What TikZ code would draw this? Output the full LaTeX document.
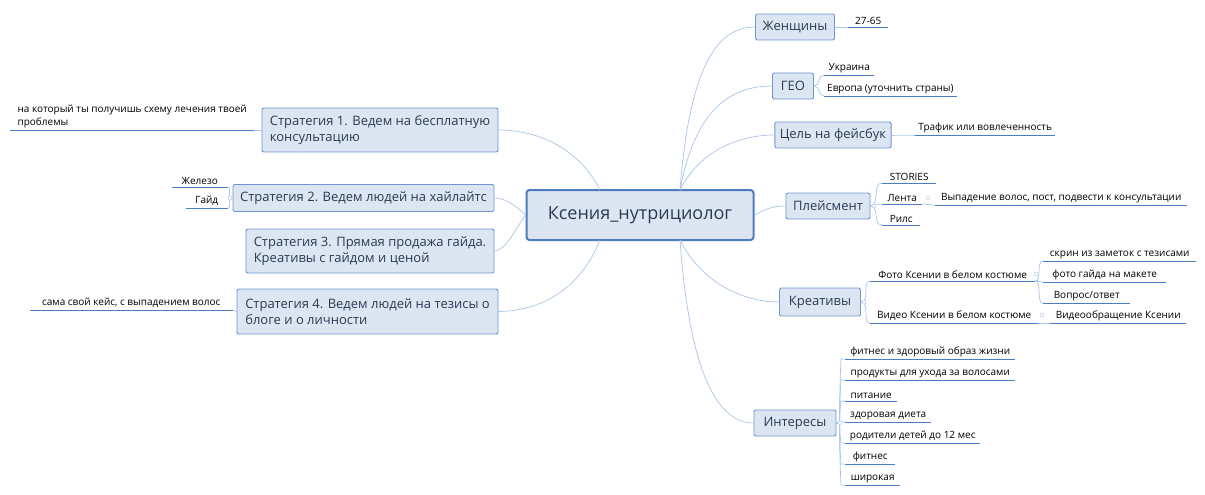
\documentclass[tikz,border=0pt]{standalone}
\usepackage{fontspec}
\setmainfont{Open Sans}
\begin{document}
\begin{tikzpicture}[x=1pt,y=-1pt,
  box/.style={draw=boxb,fill=boxf,rounded corners=2pt,line width=0.9pt,font=\fontsize{13}{16}\selectfont,text=txt,inner xsep=5pt,inner ysep=5pt,align=left},
  leaf/.style={font=\fontsize{10}{13}\selectfont,text=black,inner xsep=3pt,inner ysep=2pt,anchor=south west,align=left},
  ul/.style={draw=ulc,line width=0.9pt},
  conn/.style={draw=connc,line width=0.7pt},
  knob/.style={circle,draw=connc,fill=white,inner sep=0pt,minimum size=4pt}]
\definecolor{boxb}{HTML}{6F96CF}
\definecolor{boxf}{HTML}{DCE6F3}
\definecolor{txt}{HTML}{2A3B52}
\definecolor{ulc}{HTML}{4A7CC7}
\definecolor{connc}{HTML}{A9C4E8}
\definecolor{cb}{HTML}{4F7CBD}
\useasboundingbox (0,0) rectangle (1205,495);
\newcommand{\lf}[5]{\node[leaf,minimum width=#4] (#1) at (#2,#3) {#5}; \draw[ul] (#1.south west) -- (#1.south east);}

% central
\node[draw=cb,fill=boxf,rounded corners=3pt,line width=2pt,minimum width=227pt,minimum height=50pt,font=\fontsize{18}{22}\selectfont,text=txt] (c) at (640,215) {Ксения\_нутрициолог};

% right boxes
\node[box,minimum width=79pt,minimum height=26pt] (w) at (795,27) {Женщины};
\node[box,minimum width=41pt,minimum height=26pt] (g) at (793,86) {ГЕО};
\node[box,minimum width=110pt,minimum height=26pt] (f) at (833,135) {Цель на фейсбук};
\node[box,minimum width=84pt,minimum height=26pt] (p) at (828,206) {Плейсмент};
\node[box,minimum width=81pt,minimum height=28pt] (k) at (820,302) {Креативы};
\node[box,minimum width=82pt,minimum height=26pt] (i) at (795,423) {Интересы};

% left boxes
\node[box,minimum width=236pt,minimum height=44pt] (s1) at (380,130) {Стратегия 1. Ведем на бесплатную\\консультацию};
\node[box,minimum width=261pt,minimum height=27pt] (s2) at (363.5,198) {Стратегия 2. Ведем людей на хайлайтс};
\node[box,minimum width=248pt,minimum height=44pt] (s3) at (370,251) {Стратегия 3. Прямая продажа гайда.\\Креативы с гайдом и ценой};
\node[box,minimum width=261pt,minimum height=45pt] (s4) at (367.5,311.5) {Стратегия 4. Ведем людей на тезисы о\\блоге и о личности};

% central connectors
\coordinate (ct) at (680,190);
\coordinate (cbt) at (680,240);
\coordinate (clt) at (600,190);
\coordinate (clb) at (600,240);
\draw[conn] (ct) .. controls (690,60) and (720,27) .. (w.west);
\draw[conn] (ct) .. controls (695,110) and (730,86) .. (g.west);
\draw[conn] (ct) .. controls (700,150) and (740,135) .. (f.west);
\draw[conn] (c.east) .. controls (765,210) and (770,206) .. (p.west);
\draw[conn] (cbt) .. controls (700,280) and (740,302) .. (k.west);
\draw[conn] (cbt) .. controls (690,380) and (720,423) .. (i.west);
\draw[conn] (clt) .. controls (580,150) and (540,130) .. (s1.east);
\draw[conn] (c.west) .. controls (515,205) and (505,198) .. (s2.east);
\draw[conn] (c.west) .. controls (515,230) and (505,251) .. (s3.east);
\draw[conn] (clb) .. controls (580,290) and (540,311) .. (s4.east);

% Женщины
\lf{w1}{848}{27}{40pt}{27-65}
\draw[conn] (w.east) .. controls (842,27) .. (w1.south west);
% ГЕО
\lf{g1}{824}{75}{50pt}{Украина}
\lf{g2}{824}{96}{132pt}{Европа (уточнить страны)}
\draw[conn] (g.east) .. controls (820,86) and (818,75) .. (g1.south west);
\draw[conn] (g.east) .. controls (820,86) and (818,96) .. (g2.south west);
% Цель
\lf{f1}{915}{135}{140pt}{Трафик или вовлеченность}
\draw[conn] (f.east) .. controls (905,135) .. (f1.south west);
% Плейсмент
\lf{p1}{882}{183}{54pt}{STORIES}
\lf{p2}{882}{204}{40pt}{Лента}
\lf{p3}{882}{225}{38pt}{Рилс}
\draw[conn] (p.east) .. controls (880,206) and (872,183) .. (p1.south west);
\draw[conn] (p.east) .. controls (876,206) and (876,204) .. (p2.south west);
\draw[conn] (p.east) .. controls (880,206) and (872,225) .. (p3.south west);
\lf{p21}{935}{205}{252pt}{Выпадение волос, пост, подвести к консультации}
\draw[conn] (p2.south east) -- (p21.south west);
\node[knob] at (928,198) {};
\node[knob] (pk) at (874,206) {};
% Креативы
\lf{k1}{870}{281}{165pt}{Фото Ксении в белом костюме}
\lf{k2}{870}{323}{168pt}{Видео Ксении в белом костюме}
\draw[conn] (k.east) .. controls (870,302) and (862,281) .. (k1.south west);
\draw[conn] (k.east) .. controls (870,302) and (862,323) .. (k2.south west);
\node[knob] at (864,302) {};
\lf{k11}{1043}{261}{153pt}{скрин из заметок с тезисами}
\lf{k12}{1043}{282}{123pt}{фото гайда на макете}
\lf{k13}{1043}{303}{87pt}{Вопрос/ответ}
\draw[conn] (k1.south east) .. controls (1042,281) and (1036,261) .. (k11.south west);
\draw[conn] (k1.south east) -- (k12.south west);
\draw[conn] (k1.south east) .. controls (1042,281) and (1036,303) .. (k13.south west);
\node[knob] at (1036,274) {};
\lf{k21}{1050}{323}{136pt}{Видеообращение Ксении}
\draw[conn] (k2.south east) -- (k21.south west);
\node[knob] at (1042,315) {};
% Интересы
\lf{i1}{845}{359}{170pt}{фитнес и здоровый образ жизни}
\lf{i2}{845}{380}{170pt}{продукты для ухода за волосами}
\lf{i3}{845}{401}{52pt}{питание}
\lf{i4}{845}{422}{86pt}{здоровая диета}
\lf{i5}{845}{443}{135pt}{родители детей до 12 мес}
\lf{i6}{845}{464}{50pt}{фитнес}
\lf{i7}{845}{485}{55pt}{широкая}
\foreach \n in {i1,i2,i3,i4,i5,i6,i7}{
  \draw[conn] (i.east) .. controls (842,423) and (838,423) .. ([xshift=-4pt]\n.south west) -- (\n.south west);}
\node[knob] at (840,423) {};

% left leaves
\node[leaf,anchor=south west,minimum width=244pt] (s11) at (10,130) {на который ты получишь схему лечения твоей\\проблемы};
\draw[ul] (s11.south west) -- (s11.south east);
\draw[conn] (s1.west) .. controls (258,130) .. (s11.south east);
\node[leaf,anchor=south east,minimum width=56pt] (s21) at (228,187) {Железо};
\node[leaf,anchor=south east,minimum width=42pt] (s22) at (228,208) {Гайд};
\draw[ul] (s21.south west) -- (s21.south east);
\draw[ul] (s22.south west) -- (s22.south east);
\draw[conn] (s2.west) .. controls (226,198) and (232,187) .. (s21.south east);
\draw[conn] (s2.west) .. controls (226,198) and (232,208) .. (s22.south east);
\node[knob] at (230,198) {};
\node[leaf,anchor=south east,minimum width=203pt] (s41) at (233,310) {сама свой кейс, с выпадением волос};
\draw[ul] (s41.south west) -- (s41.south east);
\draw[conn] (s4.west) .. controls (235,311) .. (s41.south east);
\end{tikzpicture}
\end{document}
